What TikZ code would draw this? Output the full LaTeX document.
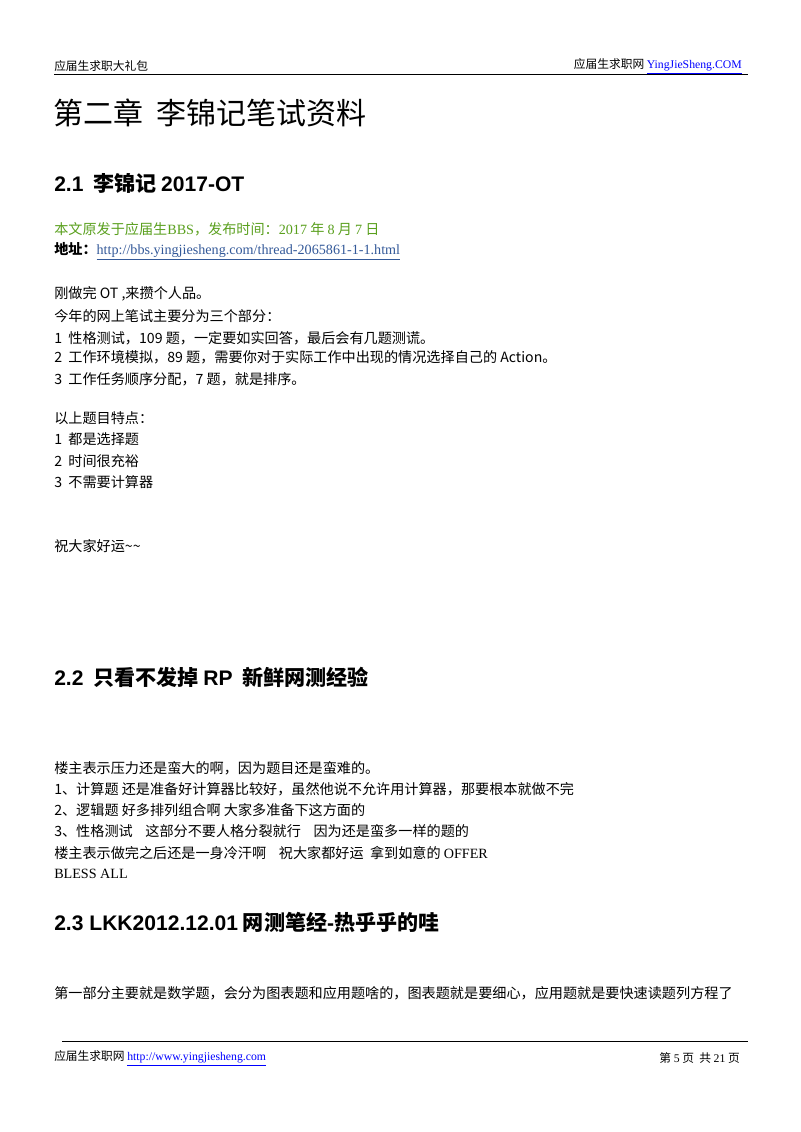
\documentclass[tikz,border=0pt]{standalone}
\usepackage{fontspec}
\setmainfont{Liberation Serif}
\newfontfamily\cjk{Noto Sans CJK SC}
\newfontfamily\sansf{Liberation Sans}
\begin{document}
\begin{tikzpicture}[x=0.75pt,y=-0.75pt,
 t/.style={anchor=west,inner sep=0pt,font=\cjk\fontsize{10.6}{12}\selectfont},
 hd/.style={anchor=west,inner sep=0pt,font=\cjk\fontsize{8.8}{10}\selectfont},
 sec/.style={anchor=west,inner sep=0pt,font=\cjk\bfseries\fontsize{15.8}{18}\selectfont}]
\useasboundingbox (0,0) rectangle (800,1132);
\fill[white] (0,0) rectangle (800,1132);
\node[hd] (h1) at (54,66) {应届生求职大礼包};
\node[hd,anchor=east] (h2) at (742,66) {应届生求职网 \textcolor{blue}{\rmfamily\underline{YingJieSheng.COM}}};
\draw[line width=0.6pt] (54,74) -- (748,74);
\node[anchor=west,inner sep=0pt,font=\cjk\fontsize{22.5}{26}\selectfont] (title) at (53,113) {第二章\ \ 李锦记笔试资料};
\node[sec] (s1) at (54,183) {{\sansf 2.1}\ \ 李锦记 {\sansf 2017-OT}};
\node[t,text={rgb,255:red,90;green,160;blue,30}] (g) at (54,229) {本文原发于应届生{\rmfamily BBS}，发布时间：{\rmfamily 2017} 年 {\rmfamily 8} 月 {\rmfamily 7} 日};
\node[t] (addr) at (54,251) {\textbf{地址：}\textcolor[rgb]{0.2,0.35,0.6}{\rmfamily\underline{http://bbs.yingjiesheng.com/thread-2065861-1-1.html}}};
\node[t] (a1) at (54,294) {刚做完 OT ,来攒个人品。};
\node[t] (a2) at (54,316) {今年的网上笔试主要分为三个部分：};
\node[t] (a3) at (54,338) {1\ \ 性格测试，109 题，一定要如实回答，最后会有几题测谎。};
\node[t] (a4) at (54,357) {2\ \ 工作环境模拟，89 题，需要你对于实际工作中出现的情况选择自己的 Action。};
\node[t] (a5) at (54,379) {3\ \ 工作任务顺序分配，7 题，就是排序。};
\node[t] (b1) at (54,418) {以上题目特点：};
\node[t] (b2) at (54,439) {1\ \ 都是选择题};
\node[t] (b3) at (54,461) {2\ \ 时间很充裕};
\node[t] (b4) at (54,482) {3\ \ 不需要计算器};
\node[t] (c1) at (54,546) {祝大家好运\textasciitilde\textasciitilde};
\node[sec] (s2) at (54,677) {{\sansf 2.2}\ \ 只看不发掉 {\sansf RP}\ \ 新鲜网测经验};
\node[t] (d1) at (54,768) {楼主表示压力还是蛮大的啊，因为题目还是蛮难的。};
\node[t] (d2) at (54,789) {1、计算题\ 还是准备好计算器比较好，虽然他说不允许用计算器，那要根本就做不完};
\node[t] (d3) at (54,810) {2、逻辑题\ 好多排列组合啊\ 大家多准备下这方面的};
\node[t] (d4) at (54,831) {3、性格测试\ \ \ \ 这部分不要人格分裂就行\ \ \ \ 因为还是蛮多一样的题的};
\node[t] (d5) at (54,853) {楼主表示做完之后还是一身冷汗啊\ \ \ \ 祝大家都好运\ \ 拿到如意的 {\rmfamily OFFER}};
\node[t] (d6) at (54,874) {\rmfamily BLESS ALL};
\node[sec] (s3) at (54,922) {{\sansf 2.3 LKK2012.12.01} 网测笔经{\sansf -}热乎乎的哇};
\node[t] (e1) at (54,993) {第一部分主要就是数学题，会分为图表题和应用题啥的，图表题就是要细心，应用题就是要快速读题列方程了};
\draw[line width=0.6pt] (62,1041) -- (748,1041);
\node[hd] (f1) at (54,1058) {应届生求职网 \textcolor{blue}{\rmfamily\underline{http://www.yingjiesheng.com}}};
\node[hd,anchor=east] (f2) at (740,1058) {第\ {\rmfamily 5}\ 页\ \ 共\ {\rmfamily 21}\ 页};
\end{tikzpicture}
\end{document}
